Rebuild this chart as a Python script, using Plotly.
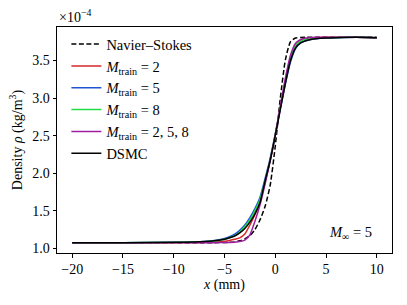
import plotly.graph_objects as go

# x positions (mm)
x_mm = [-20, -15, -10, -8, -7, -6, -5, -4.5, -4, -3.5, -3, -2.5, -2, -1.5, -1,
        -0.5, 0, 0.5, 1, 1.5, 2, 2.5, 3, 3.5, 4, 5, 6, 8, 10]

# densities in units of 1e-4 kg/m^3
rho_ns = [1.075, 1.075, 1.075, 1.075, 1.075, 1.076, 1.078, 1.08, 1.085, 1.10, 1.125, 1.17, 1.25, 1.38, 1.56,
          1.84, 2.36, 3.00, 3.51, 3.75, 3.80, 3.807, 3.81, 3.81, 3.81, 3.81, 3.81, 3.81, 3.81]
rho_m2 = [1.075, 1.075, 1.076, 1.078, 1.08, 1.085, 1.095, 1.105, 1.12, 1.14, 1.19, 1.31, 1.45, 1.62, 1.88,
          2.17, 2.50, 2.87, 3.22, 3.52, 3.70, 3.765, 3.79, 3.80, 3.805, 3.81, 3.81, 3.81, 3.805]
rho_m5 = [1.075, 1.076, 1.08, 1.086, 1.092, 1.105, 1.13, 1.155, 1.19, 1.24, 1.31, 1.41, 1.53, 1.68, 1.93,
          2.20, 2.52, 2.86, 3.19, 3.48, 3.66, 3.735, 3.765, 3.78, 3.79, 3.80, 3.805, 3.81, 3.805]
rho_m8 = [1.075, 1.075, 1.078, 1.082, 1.087, 1.097, 1.12, 1.14, 1.17, 1.215, 1.29, 1.38, 1.50, 1.65, 1.90,
          2.18, 2.52, 2.88, 3.23, 3.53, 3.70, 3.76, 3.785, 3.795, 3.80, 3.805, 3.808, 3.81, 3.805]
rho_m258 = [1.075, 1.075, 1.075, 1.075, 1.075, 1.076, 1.078, 1.079, 1.082, 1.09, 1.11, 1.18, 1.36, 1.58, 1.86,
            2.17, 2.51, 2.90, 3.27, 3.57, 3.73, 3.78, 3.80, 3.805, 3.81, 3.81, 3.81, 3.81, 3.805]
rho_dsmc = [1.075, 1.076, 1.08, 1.085, 1.09, 1.10, 1.12, 1.14, 1.165, 1.205, 1.265, 1.35, 1.46, 1.61, 1.90,
            2.17, 2.50, 2.85, 3.20, 3.50, 3.67, 3.735, 3.765, 3.78, 3.79, 3.80, 3.805, 3.81, 3.805]

x_ticks = [-20, -15, -10, -5, 0, 5, 10]
y_ticks = [1.0, 1.5, 2.0, 2.5, 3.0, 3.5]

FONT = "Liberation Serif"

series = [
    ("Navier–Stokes", rho_ns, "black", "5px,2.5px"),
    ("<i>M</i><sub>train</sub> = 2", rho_m2, "#d62728", "solid"),
    ("<i>M</i><sub>train</sub> = 5", rho_m5, "#1f55d0", "solid"),
    ("<i>M</i><sub>train</sub> = 8", rho_m8, "#22dd44", "solid"),
    ("<i>M</i><sub>train</sub> = 2, 5, 8", rho_m258, "#a01fa0", "solid"),
    ("DSMC", rho_dsmc, "black", "solid"),
]

fig = go.Figure()
for name, y, color, dash in series:
    fig.add_trace(go.Scatter(
        x=x_mm, y=y, mode="lines", name=name,
        line=dict(color=color, width=1.5, dash=dash, shape="spline", smoothing=0.6),
    ))

fig.update_layout(
    width=407, height=305,
    margin=dict(l=57, r=15, t=27, b=52),
    paper_bgcolor="white", plot_bgcolor="white",
    font=dict(family=FONT, size=14, color="black"),
    showlegend=True,
    legend=dict(x=0.028, y=0.995, xanchor="left", yanchor="top",
                bgcolor="rgba(0,0,0,0)", borderwidth=0,
                font=dict(family=FONT, size=14.5), tracegroupgap=0),
    xaxis=dict(range=[-21.5, 11.5], tickvals=x_ticks,
               ticktext=[("−" + str(-v)) if v < 0 else str(v) for v in x_ticks],
               tickfont=dict(size=14),
               showgrid=False, zeroline=False, showline=True, linecolor="black", linewidth=1,
               mirror=True, ticks="outside", ticklen=3.5, tickcolor="black",
               title=dict(text="<i>x</i> (mm)", standoff=1, font=dict(size=14))),
    yaxis=dict(range=[0.938, 3.947], tickvals=y_ticks, ticktext=[f"{v:.1f}" for v in y_ticks],
               tickfont=dict(size=14),
               showgrid=False, zeroline=False, showline=True, linecolor="black", linewidth=1,
               mirror=True, ticks="outside", ticklen=3.5, tickcolor="black",
               title=dict(text="Density <i>ρ</i> (kg/m<sup>3</sup>)", standoff=6, font=dict(size=14))),
    annotations=[
        dict(text="×10<sup>−4</sup>", xref="paper", yref="paper", x=0.0, y=1.0,
             xanchor="left", yanchor="bottom", showarrow=False, font=dict(size=14)),
        dict(text="<i>M</i><sub>∞</sub> = 5", xref="paper", yref="paper", x=0.946, y=0.087,
             xanchor="right", yanchor="middle", showarrow=False, font=dict(size=14.5)),
    ],
)

fig.write_html("out.html", config={"displayModeBar": False},
               post_script="document.body.style.margin='0';")
